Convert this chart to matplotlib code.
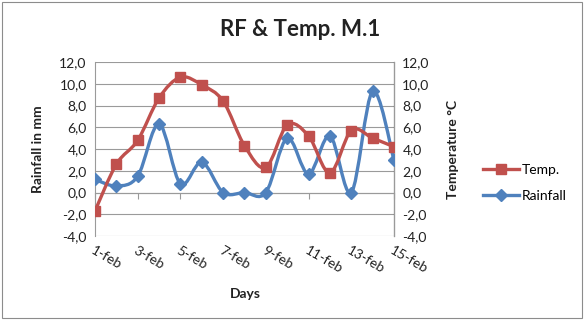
import matplotlib
matplotlib.use("Agg")
import matplotlib.pyplot as plt
import numpy as np
from matplotlib.path import Path
from matplotlib.patches import PathPatch, Rectangle
from matplotlib.lines import Line2D
from matplotlib.ticker import FuncFormatter
import matplotlib.transforms as mtrans

plt.rcParams['font.family'] = ['Lato', 'DejaVu Sans']

# data
days = np.arange(1, 16)
temp = [-1.7, 2.6, 4.8, 8.7, 10.6, 9.9, 8.4, 4.3, 2.3, 6.2, 5.2, 1.8, 5.7, 5.0, 4.2]
rain = [1.2, 0.6, 1.5, 6.3, 0.8, 2.8, 0.0, 0.0, 0.0, 5.0, 1.7, 5.2, 0.0, 9.3, 3.0]
tick_days = [1, 3, 5, 7, 9, 11, 13, 15]
tick_labels = ['1-feb', '3-feb', '5-feb', '7-feb', '9-feb', '11-feb', '13-feb', '15-feb']

RED = '#C0504D'
BLUE = '#4F81BD'
GRID = '#9a9a9a'


def smooth_path(x, y):
    # Catmull-Rom style bezier through the points (like Excel "smoothed line")
    pts = np.column_stack([x, y]).astype(float)
    n = len(pts)
    verts = [pts[0]]
    codes = [Path.MOVETO]
    for i in range(n - 1):
        p0 = pts[i - 1] if i > 0 else pts[i]
        p1 = pts[i]
        p2 = pts[i + 1]
        p3 = pts[i + 2] if i + 2 < n else pts[i + 1]
        c1 = p1 + (p2 - p0) / 6.0
        c2 = p2 - (p3 - p1) / 6.0
        verts += [c1, c2, p2]
        codes += [Path.CURVE4] * 3
    return Path(verts, codes)


fig = plt.figure(figsize=(5.84, 3.22), dpi=100)
fig.add_artist(Rectangle((0.004, 0.012), 0.992, 0.982, transform=fig.transFigure,
                         fill=False, edgecolor='#8c8c8c', linewidth=0.8))

ax = fig.add_axes([95 / 584, 1 - 236 / 322, (394 - 95) / 584, (236 - 62) / 322])
ax2 = ax.twinx()

for a in (ax, ax2):
    a.set_ylim(-4, 12)
    a.set_yticks(np.arange(-4, 13, 2))
    a.yaxis.set_major_formatter(FuncFormatter(lambda v, p: ('%.1f' % v).replace('.', ',')))
    a.tick_params(axis='y', length=0, labelsize=10, colors='#222222', pad=6)
ax.set_xlim(1, 15)

ax.grid(axis='y', color=GRID, linewidth=0.8)
ax.set_axisbelow(True)
ax.spines['top'].set_visible(False)
ax2.spines['top'].set_visible(False)
ax.spines['left'].set_color(GRID)
ax2.spines['right'].set_color(GRID)
ax2.spines['left'].set_visible(False)
ax2.spines['bottom'].set_visible(False)
ax.spines['bottom'].set_position(('data', 0))
ax.spines['bottom'].set_color(GRID)
ax.set_xticks(tick_days)
ax.tick_params(axis='x', direction='out', length=4, color=GRID, labelbottom=False)

# rotated day labels below the plot
trans = mtrans.blended_transform_factory(ax.transData, ax.transAxes)
for d, lab in zip(tick_days, tick_labels):
    ax.text(d, -0.05, lab, transform=trans, rotation=-30, rotation_mode='anchor',
            ha='left', va='top', fontsize=10, color='#222222')

# rainfall (blue)
ax2.add_patch(PathPatch(smooth_path(days, rain), fill=False, edgecolor=BLUE, linewidth=2.4,
                        transform=ax2.transData, zorder=3))
ax2.plot(days, rain, linestyle='none', marker='D', markersize=6, color=BLUE, zorder=4)
# temperature (red)
ax2.add_patch(PathPatch(smooth_path(days, temp), fill=False, edgecolor=RED, linewidth=2.4,
                        transform=ax2.transData, zorder=5))
ax2.plot(days, temp, linestyle='none', marker='s', markersize=7, color=RED, zorder=6)

fig.text(300 / 584, 1 - 30 / 322, 'RF & Temp. M.1', ha='center', va='center',
         fontsize=16, fontweight='bold', color='#222222')
fig.text(38 / 584, 1 - 149 / 322, 'Rainfall in mm', rotation=90, ha='center', va='center',
         fontsize=10, fontweight='bold', color='#222222')
fig.text(453 / 584, 1 - 149 / 322, 'Temperature °C', rotation=90, ha='center', va='center',
         fontsize=10, fontweight='bold', color='#222222')
fig.text(245 / 584, 1 - 294 / 322, 'Days', ha='center', va='center',
         fontsize=10, fontweight='bold', color='#222222')

handles = [Line2D([], [], color=RED, linewidth=2.4, marker='s', markersize=7),
           Line2D([], [], color=BLUE, linewidth=2.4, marker='D', markersize=6)]
fig.legend(handles, ['Temp.', 'Rainfall'], loc='center left',
           bbox_to_anchor=(480 / 584, 1 - 183 / 322), frameon=False, fontsize=10,
           handlelength=2.6, handletextpad=0.2, labelspacing=1.0, borderaxespad=0,
           borderpad=0.2)

fig.savefig('out.png', dpi=100)
